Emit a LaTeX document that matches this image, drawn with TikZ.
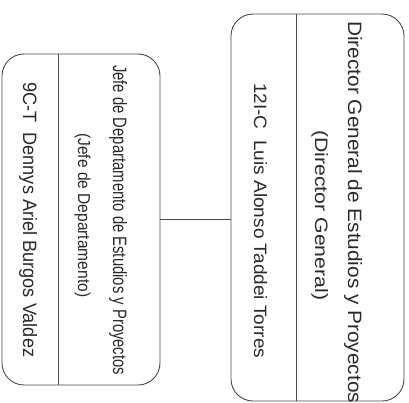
\documentclass[tikz,border=0pt]{standalone}
\usepackage{fontspec}
\setmainfont{Liberation Sans}
\usepackage{graphicx}
\definecolor{ink}{HTML}{2A2A2A}
\definecolor{edge}{HTML}{4A4A4A}
\newcommand{\fitline}[3]{\resizebox{#1bp}{#2bp}{#3}}
\begin{document}
\begin{tikzpicture}[x=1bp,y=-1bp,
  orgbox/.style={draw=edge, line width=0.9bp, rounded corners=22bp, rectangle, inner sep=0, fill=none},
  rline/.style={rotate=-90, anchor=base west, inner sep=0, text=ink},
  conn/.style={draw=edge, line width=0.9bp}]
\useasboundingbox[fill=white] (0,0) rectangle (409,403);
% boxes
\node[orgbox, minimum width=158bp, minimum height=331bp] (jefe) at (81,219.5) {};
\node[orgbox, minimum width=173bp, minimum height=387bp] (dir) at (317.5,207.5) {};
% dividers
\coordinate (jd1) at (58,54);
\coordinate (jd2) at (58,385);
\coordinate (dd1) at (296,14);
\coordinate (dd2) at (296,401);
\draw[conn] (jd1) -- (jd2);
\draw[conn] (dd1) -- (dd2);
% connector
\draw[conn] (jefe.east) -- (jefe.east -| dir.west);
% Director texts
\node[rline] (d1) at (348,21) {\fitline{382}{14}{Director General de Estudios y Proyectos}};
\node[rline] (d2) at (315,130) {\fitline{170}{13}{(Director General)}};
\node[rline] (d3) at (254,83) {\fitline{275}{13}{12I-C\ \ Luis Alonso Taddei Torres}};
% Jefe texts
\node[rline] (j1) at (113,65) {\fitline{310}{14}{Jefe de Departamento de Estudios y Proyectos}};
\node[rline] (j2) at (78,133) {\fitline{164}{12.5}{(Jefe de Departamento)}};
\node[rline] (j3) at (23,82) {\fitline{275}{14}{9C-T\ \ Dennys Ariel Burgos Valdez}};
\end{tikzpicture}
\end{document}
